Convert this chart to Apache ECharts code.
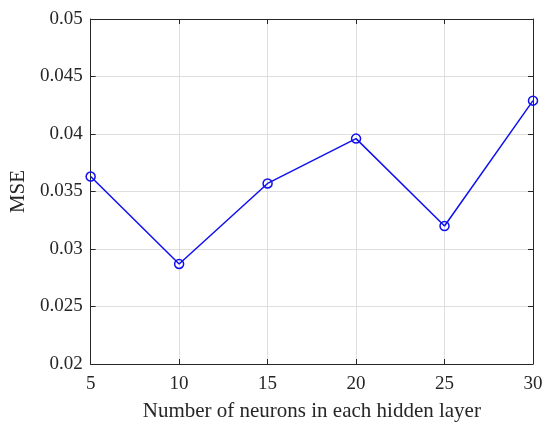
<!DOCTYPE html>
<html><head><meta charset="utf-8">
<script src="https://cdn.jsdelivr.net/npm/echarts@6/dist/echarts.min.js"></script>
<style>html,body{margin:0;padding:0;background:#fff}#c{width:550px;height:432px}</style>
</head><body><div id="c"></div>
<script>
var neurons = [5, 10, 15, 20, 25, 30];
var mse = [0.0363, 0.0287, 0.0357, 0.0396, 0.0320, 0.0429];
var xTicks = [5, 10, 15, 20, 25, 30];
var yTicks = [0.02, 0.025, 0.03, 0.035, 0.04, 0.045, 0.05];

var font = 'Liberation Serif, Times New Roman, serif';
var chart = echarts.init(document.getElementById('c'), null, {renderer: 'canvas'});
var axisLine = {show: true, lineStyle: {color: '#262626', width: 1}};
var tick = {show: true, inside: true, length: 5, lineStyle: {color: '#262626'}};
chart.setOption({
  animation: false,
  backgroundColor: '#fff',
  grid: {left: 86, right: 17, top: 19, bottom: 68, containLabel: false},
  xAxis: [{
    type: 'value', min: xTicks[0], max: xTicks[xTicks.length - 1], interval: 5, position: 'bottom',
    name: 'Number of neurons in each hidden layer', nameLocation: 'middle', nameGap: 37,
    nameTextStyle: {fontFamily: font, fontSize: 21, color: '#262626'},
    axisLine: axisLine, axisTick: tick,
    axisLabel: {fontFamily: font, fontSize: 19, color: '#262626', margin: 11},
    splitLine: {show: true, lineStyle: {color: '#dedede', width: 1}}
  }, {
    type: 'value', min: xTicks[0], max: xTicks[xTicks.length - 1], interval: 5, position: 'top',
    axisLine: axisLine, axisTick: tick, axisLabel: {show: false}, splitLine: {show: false}
  }],
  yAxis: [{
    type: 'value', min: yTicks[0], max: yTicks[yTicks.length - 1], interval: 0.005, position: 'left',
    name: 'MSE', nameLocation: 'middle', nameGap: 58,
    nameTextStyle: {fontFamily: font, fontSize: 21, color: '#262626'},
    axisLine: axisLine, axisTick: tick,
    axisLabel: {fontFamily: font, fontSize: 19, color: '#262626', margin: 8,
      formatter: function (v) { return String(parseFloat(v.toFixed(4))); }},
    splitLine: {show: true, lineStyle: {color: '#dedede', width: 1}}
  }, {
    type: 'value', min: yTicks[0], max: yTicks[yTicks.length - 1], interval: 0.005, position: 'right',
    axisLine: axisLine, axisTick: tick, axisLabel: {show: false}, splitLine: {show: false}
  }],
  series: [{
    type: 'line',
    data: neurons.map(function (n, i) { return [n, mse[i]]; }),
    symbol: 'circle', symbolSize: 9, showAllSymbol: true,
    itemStyle: {color: 'transparent', borderColor: '#1010f0', borderWidth: 1.5},
    lineStyle: {color: '#1010f0', width: 1.5}
  }]
});
</script></body></html>
